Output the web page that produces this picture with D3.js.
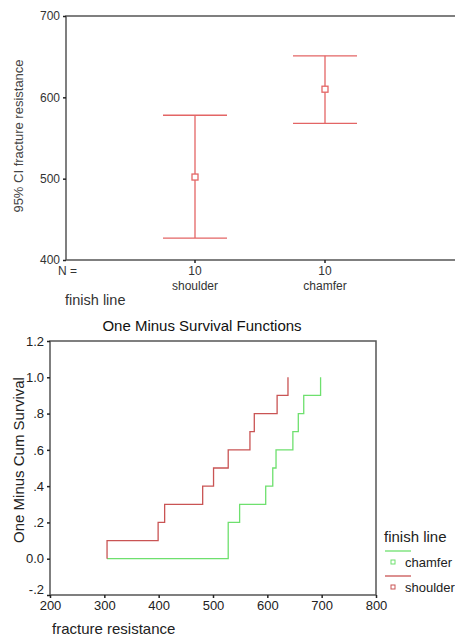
<!DOCTYPE html>
<html>
<head>
<meta charset="utf-8">
<script src="https://cdn.jsdelivr.net/npm/d3@7"></script>
<style>
  body { margin: 0; background: #fff; }
  svg { font-family: "Liberation Sans", Arial, sans-serif; }
</style>
</head>
<body>
<svg id="chart" width="455" height="638"></svg>
<script>
// error bar chart data
const groups = ["shoulder", "chamfer"];
const groupN = [10, 10];
const ciMean = [502, 610];
const ciLow = [427, 568];
const ciHigh = [578, 651];
const ciTicks = [400, 500, 600, 700];

// one minus survival data
const shoulderTimes = [305, 399, 411, 481, 501, 528, 568, 576, 618, 638];
const shoulderVals = [0.1, 0.2, 0.3, 0.4, 0.5, 0.6, 0.7, 0.8, 0.9, 1.0];
const chamferTimes = [305, 528, 549, 597, 610, 616, 647, 657, 667, 698];
const chamferVals = [0.0, 0.2, 0.3, 0.4, 0.5, 0.6, 0.7, 0.8, 0.9, 1.0];
const survYTicks = [-0.2, 0, 0.2, 0.4, 0.6, 0.8, 1.0, 1.2];
const survYLabels = ["-.2", "0.0", ".2", ".4", ".6", ".8", "1.0", "1.2"];
const survXTicks = [200, 300, 400, 500, 600, 700, 800];

const svg = d3.select("#chart");
const axisColor = "#555";
const red1 = "#e36565";
const red2 = "#c95454";
const green = "#6ee06e";

// ---------- top: error bars ----------
const ebar = svg.append("g");
const y1 = d3.scaleLinear().domain([400, 700]).range([260, 16]);
const x1 = d3.scalePoint().domain(groups).range([195, 325]);

ebar.append("path")
  .attr("d", `M455,16H66V260H455`)
  .attr("fill", "none").attr("stroke", axisColor).attr("stroke-width", 1.5);

ebar.append("g")
  .attr("transform", "translate(66,0)")
  .call(d3.axisLeft(y1).tickValues(ciTicks).tickSize(3).tickFormat(d3.format("d")))
  .call(g => g.select(".domain").remove())
  .call(g => g.selectAll("line").attr("stroke", "#222").attr("stroke-width", 1.5))
  .call(g => g.selectAll("text").attr("fill", "#333").style("font-size", "12px"));

ebar.selectAll(".xtick").data(groups).enter().append("line")
  .attr("x1", d => x1(d)).attr("x2", d => x1(d))
  .attr("y1", 260).attr("y2", 263)
  .attr("stroke", "#222").attr("stroke-width", 1.5);

ebar.append("text").text("N =").attr("x", 58).attr("y", 275)
  .attr("fill", "#333").style("font-size", "12px");

groups.forEach((g, i) => {
  ebar.append("text").text(groupN[i]).attr("x", x1(g)).attr("y", 275)
    .attr("text-anchor", "middle").attr("fill", "#333").style("font-size", "12px");
  ebar.append("text").text(g).attr("x", x1(g)).attr("y", 290)
    .attr("text-anchor", "middle").attr("fill", "#333").style("font-size", "12px");

  const cx = x1(g);
  const bar = ebar.append("g").attr("stroke", red1).attr("stroke-width", 1.3).attr("fill", "none");
  bar.append("line").attr("x1", cx).attr("x2", cx).attr("y1", y1(ciHigh[i])).attr("y2", y1(ciLow[i]));
  bar.append("line").attr("x1", cx - 32).attr("x2", cx + 32).attr("y1", y1(ciHigh[i])).attr("y2", y1(ciHigh[i]));
  bar.append("line").attr("x1", cx - 32).attr("x2", cx + 32).attr("y1", y1(ciLow[i])).attr("y2", y1(ciLow[i]));
  bar.append("rect").attr("x", cx - 3).attr("y", y1(ciMean[i]) - 3).attr("width", 6).attr("height", 6)
    .attr("fill", "#fff");
});

ebar.append("text").text("finish line").attr("x", 65).attr("y", 305)
  .attr("fill", "#333").style("font-size", "14.5px");

ebar.append("text").text("95% CI fracture resistance")
  .attr("transform", "translate(23,136) rotate(-90)")
  .attr("text-anchor", "middle").attr("fill", "#444").style("font-size", "13px");

// ---------- bottom: one minus survival ----------
const surv = svg.append("g");
const x2 = d3.scaleLinear().domain([200, 800]).range([50, 376]);
const y2 = d3.scaleLinear().domain([-0.2, 1.2]).range([595, 341]);

surv.append("text").text("One Minus Survival Functions")
  .attr("x", 202).attr("y", 331).attr("text-anchor", "middle")
  .attr("fill", "#111").style("font-size", "15px");

surv.append("rect").attr("x", 50).attr("y", 341).attr("width", 326).attr("height", 254)
  .attr("fill", "none").attr("stroke", axisColor).attr("stroke-width", 1.5);

surv.append("g")
  .attr("transform", "translate(50,0)")
  .call(d3.axisLeft(y2).tickValues(survYTicks).tickSize(3).tickFormat((d, i) => survYLabels[i]))
  .call(g => g.select(".domain").remove())
  .call(g => g.selectAll("line").attr("stroke", "#222").attr("stroke-width", 1.5))
  .call(g => g.selectAll("text").attr("fill", "#222").style("font-size", "13px"))
  .call(g => g.selectAll(".tick text").filter(d => d < 0).attr("y", -6));

surv.append("g")
  .attr("transform", "translate(0,595)")
  .call(d3.axisBottom(x2).tickValues(survXTicks).tickSize(3).tickPadding(3))
  .call(g => g.select(".domain").remove())
  .call(g => g.selectAll("line").attr("stroke", "#222").attr("stroke-width", 1.5))
  .call(g => g.selectAll("text").attr("fill", "#222").style("font-size", "13px"));

surv.append("text").text("fracture resistance").attr("x", 52).attr("y", 634)
  .attr("fill", "#222").style("font-size", "15px");

surv.append("text").text("One Minus Cum Survival")
  .attr("transform", "translate(24,460) rotate(-90)")
  .attr("text-anchor", "middle").attr("fill", "#222").style("font-size", "15px");

function stepPts(times, vals, startVal) {
  const pts = [];
  let prev = startVal;
  times.forEach((t, i) => {
    pts.push([t, prev]);
    pts.push([t, vals[i]]);
    prev = vals[i];
  });
  return pts;
}
const line = d3.line().x(d => x2(d[0])).y(d => y2(d[1]));

surv.append("path").datum(stepPts(chamferTimes, chamferVals, 0))
  .attr("d", line).attr("fill", "none").attr("stroke", green).attr("stroke-width", 1.3);
surv.append("path").datum(stepPts(shoulderTimes, shoulderVals, 0))
  .attr("d", line).attr("fill", "none").attr("stroke", red2).attr("stroke-width", 1.3);

// legend
const lg = surv.append("g");
lg.append("text").text("finish line").attr("x", 384).attr("y", 542)
  .attr("fill", "#222").style("font-size", "15px");
const legendItems = [
  { name: "chamfer", color: green },
  { name: "shoulder", color: red2 }
];
legendItems.forEach((it, i) => {
  const yy = 551 + i * 25;
  lg.append("line").attr("x1", 385).attr("x2", 411).attr("y1", yy).attr("y2", yy)
    .attr("stroke", it.color).attr("stroke-width", 1.3);
  lg.append("rect").attr("x", 391).attr("y", yy + 9).attr("width", 4).attr("height", 4)
    .attr("fill", "#fff").attr("stroke", it.color).attr("stroke-width", 1);
  lg.append("text").text(it.name).attr("x", 405).attr("y", yy + 16)
    .attr("fill", "#222").style("font-size", "13px");
});
</script>
</body>
</html>
